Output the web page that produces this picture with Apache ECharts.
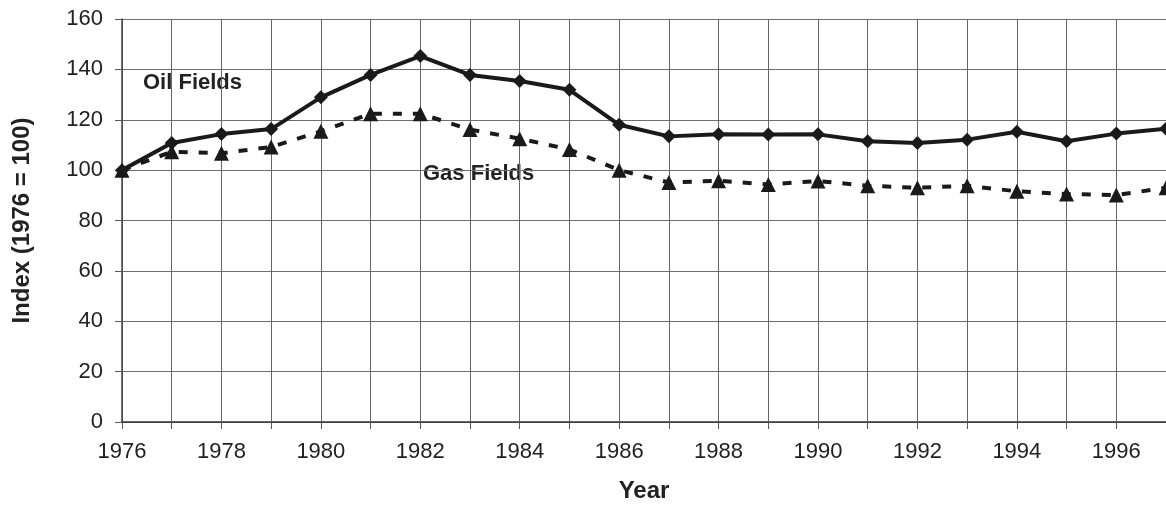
<!DOCTYPE html>
<html>
<head>
<meta charset="utf-8">
<script src="https://cdn.jsdelivr.net/npm/echarts@6/dist/echarts.min.js"></script>
<style>
  html, body { margin: 0; padding: 0; background: #fff; }
  #main { width: 1166px; height: 508px; }
</style>
</head>
<body>
<div id="main"></div>
<script>
var years = ['1976', '1977', '1978', '1979', '1980', '1981', '1982', '1983', '1984', '1985', '1986',
  '1987', '1988', '1989', '1990', '1991', '1992', '1993', '1994', '1995', '1996', '1997'];
var oilFields = [100, 110.8, 114.3, 116.3, 128.9, 137.8, 145.3, 137.8, 135.4, 131.9, 118,
  113.4, 114.2, 114.1, 114.2, 111.5, 110.8, 112.1, 115.2, 111.5, 114.5, 116.4];
var gasFields = [100, 107.3, 106.7, 109.2, 115.4, 122.4, 122.4, 116.1, 112.5, 108.2, 100,
  95.1, 95.8, 94.3, 95.7, 93.8, 93, 93.8, 91.6, 90.5, 90.1, 93];
var yTicks = [0, 160, 20];

var chart = echarts.init(document.getElementById('main'));
var font = 'Liberation Sans, Arial, sans-serif';

var option = {
  animation: false,
  grid: { left: 122, right: 0, top: 19, bottom: 84 },
  xAxis: {
    type: 'category',
    data: years,
    boundaryGap: false,
    name: 'Year',
    nameLocation: 'middle',
    nameGap: 57,
    nameTextStyle: { fontFamily: font, fontWeight: 'bold', fontSize: 24, color: '#222' },
    axisLine: { lineStyle: { color: '#333', width: 1.5 } },
    axisTick: { interval: 0, length: 7, lineStyle: { color: '#555' } },
    axisLabel: { interval: 1, margin: 19, fontFamily: font, fontSize: 22, color: '#222' },
    splitLine: { show: true, interval: 0, lineStyle: { color: '#666', width: 1 } }
  },
  yAxis: {
    type: 'value',
    min: yTicks[0],
    max: yTicks[1],
    interval: yTicks[2],
    name: 'Index (1976 = 100)',
    nameLocation: 'middle',
    nameGap: 88,
    nameTextStyle: { fontFamily: font, fontWeight: 'bold', fontSize: 24, color: '#222' },
    axisLine: { show: true, lineStyle: { color: '#444', width: 1.5 } },
    axisTick: { show: true, length: 7, lineStyle: { color: '#555' } },
    axisLabel: { margin: 19, fontFamily: font, fontSize: 22, color: '#222' },
    splitLine: { lineStyle: { color: '#6f6f6f', width: 1 } }
  },
  series: [
    {
      name: 'Oil Fields',
      type: 'line',
      data: oilFields,
      symbol: 'diamond',
      symbolSize: 14,
      lineStyle: { color: '#1a1a1a', width: 4 },
      itemStyle: { color: '#1a1a1a' },
      z: 3
    },
    {
      name: 'Gas Fields',
      type: 'line',
      data: gasFields,
      symbol: 'triangle',
      symbolSize: 15,
      lineStyle: { color: '#1a1a1a', width: 4, type: [9, 11] },
      itemStyle: { color: '#1a1a1a' },
      z: 2
    }
  ],
  graphic: [
    {
      type: 'text', left: 143, top: 72,
      style: { text: 'Oil Fields', fontFamily: font, fontWeight: 'bold', fontSize: 22, fill: '#222' }
    },
    {
      type: 'text', left: 423, top: 163,
      style: { text: 'Gas Fields', fontFamily: font, fontWeight: 'bold', fontSize: 22, fill: '#222' }
    }
  ]
};

chart.setOption(option);
</script>
</body>
</html>
